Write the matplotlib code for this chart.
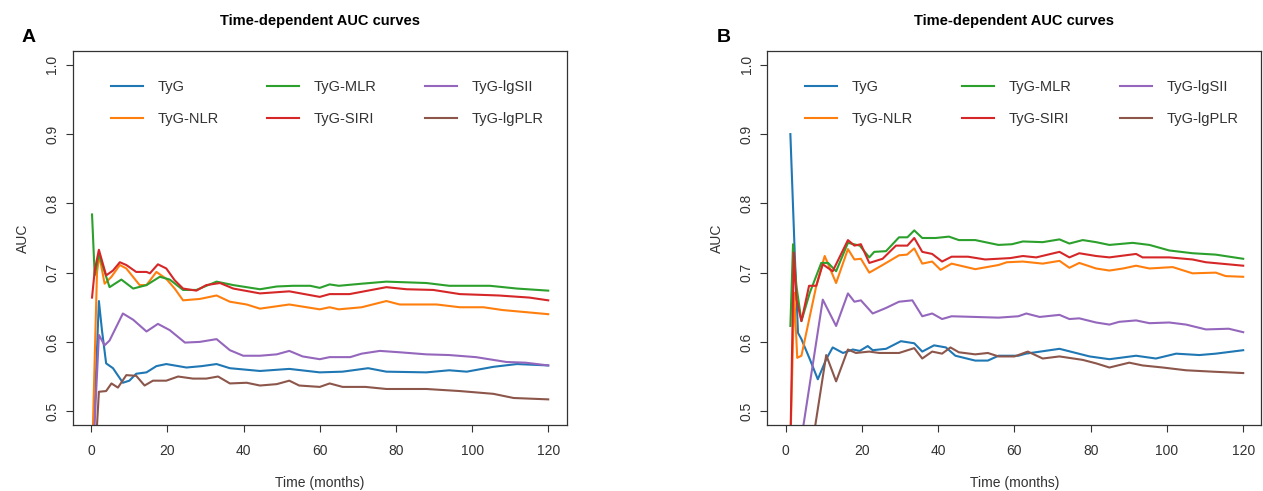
import matplotlib
matplotlib.use("Agg")
import matplotlib.pyplot as plt

plt.rcParams['font.family'] = ['Liberation Sans', 'DejaVu Sans']

labels = ["TyG", "TyG-NLR", "TyG-MLR", "TyG-SIRI", "TyG-lgSII", "TyG-lgPLR"]
colors = ["#1f77b4", "#ff7f0e", "#2ca02c", "#d62728", "#9467bd", "#8c564b"]
title = "Time-dependent AUC curves"
xticks = [0, 20, 40, 60, 80, 100, 120]
yticks = [0.5, 0.6, 0.7, 0.8, 0.9, 1.0]

# ---- Panel A ----
A_TyG_t = [0.5, 2, 2.8, 3.9, 5.7, 8.3, 10, 11.8, 14.5, 17.1, 19.7, 25, 29, 32.9, 36.4, 44.3, 52, 60, 66, 72.7, 77.5, 88, 94, 98.6, 105.6, 111.8, 120]
A_TyG_v = [0.45, 0.659, 0.617, 0.569, 0.562, 0.541, 0.544, 0.554, 0.556, 0.565, 0.568, 0.563, 0.565, 0.568, 0.562, 0.558, 0.561, 0.556, 0.557, 0.562, 0.557, 0.556, 0.559, 0.557, 0.564, 0.568, 0.566]

A_NLR_t = [0.3, 1.5, 2.1, 3.5, 5.3, 7.5, 9.2, 12.7, 14.5, 17.1, 19.7, 21.9, 24.1, 28.5, 32.9, 36.4, 40.8, 44.3, 52, 60, 62.6, 65, 71, 77.5, 81, 90.7, 96.8, 103, 108, 120]
A_NLR_v = [0.45, 0.70, 0.725, 0.684, 0.694, 0.711, 0.706, 0.682, 0.682, 0.701, 0.691, 0.677, 0.660, 0.662, 0.667, 0.658, 0.654, 0.648, 0.654, 0.647, 0.650, 0.647, 0.650, 0.659, 0.654, 0.654, 0.650, 0.650, 0.646, 0.640]

A_MLR_t = [0.2, 0.9, 2.0, 4.8, 7.9, 11, 14.5, 18, 20.6, 24.1, 27.6, 32.9, 37.3, 44.3, 48.7, 53, 57.5, 60, 62.6, 65, 71, 77.5, 88, 94, 104.7, 111.8, 120]
A_MLR_v = [0.784, 0.696, 0.727, 0.679, 0.690, 0.677, 0.682, 0.694, 0.690, 0.675, 0.675, 0.687, 0.682, 0.676, 0.680, 0.681, 0.681, 0.678, 0.683, 0.681, 0.684, 0.687, 0.685, 0.681, 0.681, 0.677, 0.674]

A_SIRI_t = [0.2, 0.9, 2.0, 3.9, 5.7, 7.5, 9.2, 11.8, 14.5, 15.4, 17.5, 19.7, 21.9, 24.1, 27.6, 30.2, 33.8, 37.3, 44.3, 52, 60, 62.6, 67.8, 77.5, 82.8, 89.8, 96.8, 107, 115, 120]
A_SIRI_v = [0.664, 0.703, 0.733, 0.696, 0.703, 0.715, 0.711, 0.701, 0.701, 0.699, 0.712, 0.706, 0.689, 0.677, 0.674, 0.682, 0.685, 0.677, 0.670, 0.673, 0.665, 0.669, 0.669, 0.679, 0.676, 0.675, 0.669, 0.667, 0.664, 0.660]

A_lgSII_t = [0.6, 2.0, 3.5, 4.8, 8.3, 11, 14.5, 17.5, 20.6, 24.6, 28.5, 32.9, 36.4, 39.9, 44.3, 48.7, 52, 55.5, 60, 62.6, 68, 71, 75.8, 81, 88, 94, 101, 109, 114, 120]
A_lgSII_v = [0.45, 0.610, 0.595, 0.602, 0.641, 0.632, 0.615, 0.626, 0.617, 0.599, 0.600, 0.604, 0.588, 0.580, 0.580, 0.582, 0.587, 0.579, 0.575, 0.578, 0.578, 0.583, 0.587, 0.585, 0.582, 0.581, 0.578, 0.571, 0.570, 0.566]

A_lgPLR_t = [1.2, 2.0, 3.9, 5.3, 7.0, 9.2, 11.8, 14.0, 16.2, 19.7, 22.8, 26.7, 30.2, 33.3, 36.4, 40.8, 44.3, 48.7, 52, 54.6, 60, 62.6, 66, 72, 77.5, 88, 96.8, 105.6, 110.9, 120]
A_lgPLR_v = [0.45, 0.528, 0.529, 0.540, 0.534, 0.552, 0.551, 0.537, 0.544, 0.544, 0.550, 0.547, 0.547, 0.550, 0.540, 0.541, 0.537, 0.539, 0.544, 0.537, 0.535, 0.540, 0.535, 0.535, 0.532, 0.532, 0.529, 0.525, 0.519, 0.517]

# ---- Panel B ----
B_TyG_t = [1.2, 2.4, 3.2, 4.1, 6.3, 8.4, 10.6, 12.3, 15.0, 17.6, 19.4, 21.5, 22.8, 26.3, 30.2, 33.7, 35.8, 38.9, 42, 44.5, 49.7, 53, 55.8, 61, 63, 71.8, 79.7, 84.9, 91.9, 97.1, 102.4, 108.5, 112.8, 120]
B_TyG_v = [0.90, 0.72, 0.613, 0.604, 0.575, 0.546, 0.575, 0.592, 0.584, 0.589, 0.587, 0.594, 0.588, 0.590, 0.601, 0.598, 0.586, 0.595, 0.592, 0.580, 0.573, 0.573, 0.580, 0.580, 0.583, 0.590, 0.579, 0.575, 0.580, 0.576, 0.583, 0.581, 0.583, 0.588]

B_NLR_t = [1.2, 2.2, 3.0, 4.1, 6.3, 8.0, 10.2, 13.2, 16.3, 18.0, 19.7, 21.9, 25.4, 29.7, 31.8, 33.7, 35.8, 38.4, 40.6, 43.5, 49.7, 55.8, 58, 62.2, 67.4, 71.8, 74.4, 77, 81.4, 84.9, 88.5, 91.9, 95.4, 101.5, 106.7, 112.8, 115.4, 120]
B_NLR_v = [0.45, 0.671, 0.577, 0.580, 0.637, 0.681, 0.724, 0.685, 0.734, 0.719, 0.720, 0.700, 0.711, 0.725, 0.726, 0.735, 0.713, 0.716, 0.704, 0.713, 0.705, 0.711, 0.715, 0.716, 0.713, 0.717, 0.707, 0.714, 0.706, 0.703, 0.706, 0.710, 0.706, 0.708, 0.699, 0.700, 0.695, 0.694]

B_MLR_t = [1.2, 1.9, 2.8, 4.1, 6.3, 9.3, 11.1, 13.2, 16.3, 19.4, 21.9, 23.2, 26.3, 29.7, 31.9, 33.7, 35.8, 39.3, 42.8, 45.4, 49.7, 55.8, 59.3, 62.2, 67.4, 71.8, 74.4, 77.9, 81.4, 84.9, 91, 95.4, 100.6, 106.7, 112.8, 120]
B_MLR_v = [0.623, 0.741, 0.68, 0.630, 0.671, 0.714, 0.714, 0.702, 0.743, 0.739, 0.722, 0.730, 0.731, 0.751, 0.751, 0.761, 0.750, 0.750, 0.752, 0.747, 0.747, 0.740, 0.741, 0.745, 0.744, 0.748, 0.742, 0.747, 0.744, 0.740, 0.743, 0.740, 0.732, 0.728, 0.726, 0.720]

B_SIRI_t = [1.2, 2.1, 2.8, 4.1, 6.1, 8.0, 9.7, 12.3, 16.3, 18.0, 19.7, 21.9, 25.4, 28.9, 31.9, 33.7, 35.8, 38.4, 41, 43.5, 47.8, 52.3, 58.9, 62.2, 65.7, 71.8, 74.4, 77, 81.4, 84.9, 91.9, 93.6, 100.6, 106.7, 110.2, 120]
B_SIRI_v = [0.45, 0.729, 0.661, 0.630, 0.681, 0.681, 0.712, 0.702, 0.747, 0.739, 0.741, 0.714, 0.720, 0.739, 0.739, 0.750, 0.730, 0.727, 0.716, 0.723, 0.723, 0.719, 0.721, 0.724, 0.722, 0.730, 0.722, 0.728, 0.724, 0.722, 0.727, 0.722, 0.722, 0.719, 0.715, 0.710]

B_lgSII_t = [3.8, 9.7, 13.2, 16.3, 18.0, 19.7, 22.8, 26.3, 29.7, 33.2, 35.8, 38.4, 41, 43.5, 49.7, 55.8, 61, 63.1, 66.6, 71.8, 74.4, 77, 81.4, 84.9, 87.5, 91.9, 95.4, 100.6, 105, 110.2, 116.2, 120]
B_lgSII_v = [0.45, 0.661, 0.623, 0.670, 0.658, 0.660, 0.641, 0.649, 0.658, 0.660, 0.637, 0.641, 0.633, 0.637, 0.636, 0.635, 0.637, 0.641, 0.636, 0.639, 0.633, 0.634, 0.628, 0.625, 0.629, 0.631, 0.627, 0.628, 0.625, 0.618, 0.619, 0.614]

B_lgPLR_t = [6.9, 10.6, 13.2, 16.3, 18.4, 21.9, 24.5, 29.7, 33.7, 35.8, 38.4, 41, 43.2, 45.4, 49.7, 53, 55.8, 60, 63.5, 67.4, 71.8, 77.9, 81.4, 84.9, 90.1, 93.6, 98.9, 105, 112, 120]
B_lgPLR_v = [0.45, 0.581, 0.543, 0.589, 0.584, 0.586, 0.584, 0.584, 0.591, 0.576, 0.586, 0.583, 0.592, 0.585, 0.582, 0.584, 0.579, 0.579, 0.586, 0.576, 0.579, 0.574, 0.569, 0.563, 0.570, 0.566, 0.563, 0.559, 0.557, 0.555]

panel_A = [(A_TyG_t, A_TyG_v), (A_NLR_t, A_NLR_v), (A_MLR_t, A_MLR_v),
           (A_SIRI_t, A_SIRI_v), (A_lgSII_t, A_lgSII_v), (A_lgPLR_t, A_lgPLR_v)]
panel_B = [(B_TyG_t, B_TyG_v), (B_NLR_t, B_NLR_v), (B_MLR_t, B_MLR_v),
           (B_SIRI_t, B_SIRI_v), (B_lgSII_t, B_lgSII_v), (B_lgPLR_t, B_lgPLR_v)]

W, H = 1263, 491
fig = plt.figure(figsize=(W / 100, H / 100), dpi=100)
fig.patch.set_facecolor("white")

axA = fig.add_axes([73 / W, 1 - 425 / H, (566.5 - 73) / W, (425 - 51) / H])
axB = fig.add_axes([767.5 / W, 1 - 425 / H, (1261.5 - 767.5) / W, (425 - 51) / H])

tc = "#333333"
for ax, data, letter in [(axA, panel_A, "A"), (axB, panel_B, "B")]:
    handles = []
    for (t, v), c, lab in zip(data, colors, labels):
        h, = ax.plot(t, v, color=c, lw=1.5, label=lab)
        handles.append(h)
    ax.set_xlim(-4.8, 124.8)
    ax.set_ylim(0.48, 1.02)
    ax.set_xticks(xticks)
    ax.set_yticks(yticks)
    ax.set_xticklabels([str(x) for x in xticks])
    ax.set_yticklabels([f"{y:.1f}" for y in yticks], rotation=90, va="center")
    ax.tick_params(axis="both", direction="out", length=5, width=0.8, colors=tc,
                   labelsize=10, labelcolor=tc)
    ax.tick_params(axis="y", pad=5)
    ax.tick_params(axis="x", pad=9)
    for s in ax.spines.values():
        s.set_color(tc)
        s.set_linewidth(0.9)
    ax.set_xlabel("Time (months)", fontsize=10, color=tc, labelpad=13)
    ax.set_ylabel("AUC", fontsize=10, color=tc, labelpad=11)
    ax.set_title(title, fontsize=10.5, fontweight="bold", pad=19)
    ax.legend(handles=handles, ncol=3, frameon=False, loc="upper left",
              bbox_to_anchor=(0.05, 0.958), fontsize=10.5, handlelength=2.2,
              handletextpad=1.0, columnspacing=3.32, labelspacing=1.25,
              labelcolor=tc)
    pos = ax.get_position()
    fig.text(pos.x0 - 44 / W, 1 - 38 / H, letter, fontsize=14, fontweight="bold",
             ha="center", va="center")

fig.savefig("out.png", dpi=100, facecolor="white")
